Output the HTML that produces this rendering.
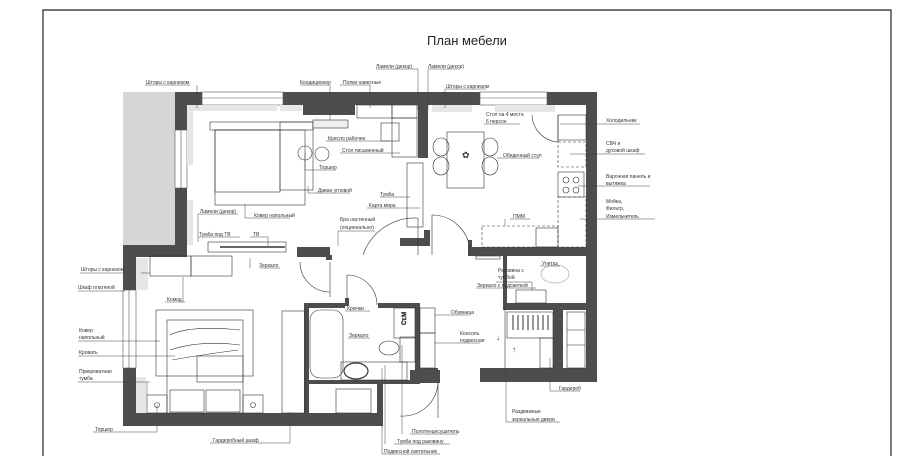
<!DOCTYPE html>
<html><head><meta charset="utf-8"><style>
html,body{margin:0;padding:0;background:#fff;}
svg{display:block;}
text{font-family:"Liberation Sans",sans-serif;font-size:5px;fill:#333;}
</style></head><body>
<svg width="900" height="456" viewBox="0 0 900 456" xmlns="http://www.w3.org/2000/svg">
<rect x="0" y="0" width="900" height="456" fill="#fff"/>
<!-- frame -->
<path d="M43 456 V10 H891 V456" fill="none" stroke="#222" stroke-width="1.2"/>
<text x="467" y="45" text-anchor="middle" style="font-size:13px;fill:#222">План мебели</text>

<!-- balcony -->
<rect x="123" y="92" width="52" height="153" fill="#d6d6d6"/>

<g fill="#4d4d4d">
<!-- top wall -->
<rect x="175" y="92" width="27" height="13"/>
<rect x="283" y="92" width="197" height="13"/>
<rect x="303" y="105" width="52" height="10"/>
<rect x="547" y="92" width="50" height="13"/>
<!-- living left wall -->
<rect x="175" y="92" width="12" height="38"/>
<rect x="175" y="188" width="12" height="64"/>
<!-- partition living/kitchen -->
<rect x="418" y="92" width="10" height="66"/>
<!-- right wall -->
<rect x="586" y="92" width="11" height="290"/>
<!-- living bottom -->
<rect x="123" y="245" width="64" height="12"/>
<rect x="297" y="247" width="33" height="10"/>
<rect x="326" y="255" width="6" height="5"/>
<rect x="400" y="238" width="30" height="8"/>
<rect x="424" y="230" width="6" height="16"/>
<rect x="468" y="247" width="129" height="9"/>
<rect x="468" y="240" width="4" height="16"/>
<!-- bedroom left wall -->
<rect x="123" y="252" width="13" height="38"/>
<rect x="123" y="368" width="13" height="58"/>
<!-- bedroom bottom -->
<rect x="123" y="413" width="257" height="13"/>
<!-- bathroom walls -->
<rect x="304" y="303" width="41" height="5"/>
<rect x="378" y="303" width="42" height="5"/>
<rect x="304" y="303" width="5" height="123"/>
<rect x="415" y="303" width="5" height="80"/>
<rect x="304" y="380" width="116" height="4"/>
<rect x="345" y="298" width="4" height="8"/>
<rect x="377" y="383" width="6" height="43"/>
<rect x="410" y="370" width="30" height="13"/>
<!-- hall -->
<rect x="420" y="368" width="18" height="14"/>
<rect x="480" y="368" width="117" height="14"/>
<rect x="503" y="256" width="4" height="52"/>
<rect x="503" y="303" width="87" height="7"/>
<rect x="553" y="310" width="10" height="58"/>
</g>

<!-- windows -->
<g fill="#fff" stroke="#555" stroke-width="0.6">
<rect x="202" y="92" width="81" height="13"/>
<rect x="480" y="92" width="67" height="13"/>
<rect x="175" y="130" width="12" height="58"/>
<rect x="123" y="290" width="13" height="78"/>
</g>
<g stroke="#555" stroke-width="0.6">
<line x1="202" y1="98" x2="283" y2="98"/><line x1="480" y1="98" x2="547" y2="98"/>
<line x1="181" y1="130" x2="181" y2="188"/><line x1="129" y1="290" x2="129" y2="368"/>
</g>
<!-- curtains -->
<g fill="#e6e6e6">
<rect x="187" y="105" width="90" height="6"/><rect x="280" y="105" width="22" height="6"/>
<rect x="187" y="110" width="6" height="55"/><rect x="187" y="200" width="6" height="45"/>
<rect x="432" y="105" width="40" height="7"/><rect x="495" y="105" width="60" height="7"/>
<rect x="136" y="258" width="12" height="32"/><rect x="136" y="377" width="10" height="36"/>
</g>

<g fill="none" stroke="#333" stroke-width="0.6">
<!-- living furniture -->
<rect x="210" y="122" width="103" height="8"/>
<rect x="215" y="130" width="65" height="62"/>
<rect x="280" y="122" width="33" height="68"/>
<rect x="215" y="130" width="90" height="75"/>
<circle cx="305" cy="153" r="7"/><circle cx="322" cy="154" r="7"/>
<rect x="313" y="120" width="35" height="8" fill="#eee"/>
<rect x="357" y="105" width="35" height="13"/><rect x="392" y="105" width="25" height="13"/>
<rect x="392" y="118" width="25" height="39"/>
<rect x="381" y="123" width="18" height="18"/>
<rect x="407" y="163" width="16" height="64"/>
<rect x="208" y="242" width="78" height="10"/>
<line x1="220" y1="247" x2="285" y2="247" stroke-width="1.5"/>
<path d="M418 218 A55 55 0 0 0 363 255 M418 218 V255"/>
<path d="M432 215 A38 38 0 0 1 470 253 M432 215 V255"/>
<!-- kitchen -->
<rect x="447" y="132" width="37" height="56"/>
<ellipse cx="441" cy="147" rx="8" ry="9"/><ellipse cx="441" cy="166" rx="8" ry="9"/>
<ellipse cx="490" cy="147" rx="8" ry="9"/><ellipse cx="490" cy="166" rx="8" ry="9"/>
<path d="M532 115 A28 28 0 0 0 558 142 V115"/>
<rect x="558" y="115" width="28" height="25"/>
<rect x="558" y="142" width="28" height="25" stroke-dasharray="3,2"/>
<rect x="558" y="172" width="26" height="25"/>
<circle cx="566" cy="180" r="3"/><circle cx="576" cy="180" r="3"/>
<circle cx="566" cy="190" r="3"/><circle cx="576" cy="190" r="3"/>
<rect x="558" y="197" width="28" height="50" stroke-dasharray="3,2"/>
<rect x="482" y="226" width="76" height="21" stroke-dasharray="3,2"/>
<rect x="536" y="228" width="22" height="19"/>
<!-- bedroom -->
<rect x="150" y="256" width="41" height="20"/><rect x="191" y="256" width="41" height="20"/>
<rect x="156" y="310" width="97" height="66"/>
<rect x="167" y="320" width="76" height="93"/>
<rect x="170" y="390" width="34" height="22"/><rect x="206" y="390" width="34" height="22"/>
<path d="M170 335 Q190 325 240 330 M170 350 Q200 340 240 345 M172 360 Q200 355 238 350"/>
<rect x="197" y="356" width="46" height="26"/>
<rect x="147" y="395" width="20" height="18"/><rect x="243" y="395" width="20" height="18"/>
<circle cx="157" cy="405" r="2.5"/><circle cx="253" cy="405" r="2.5"/>
<rect x="282" y="311" width="23" height="102"/>
<path d="M300 262 A30 30 0 0 0 330 292 M330 262 V297"/>
<path d="M347 275 A30 30 0 0 1 377 305 M347 275 V300"/>
<!-- bathroom -->
<rect x="310" y="310" width="33" height="68" rx="10"/>
<rect x="341" y="362" width="66" height="18"/>
<ellipse cx="356" cy="371" rx="12" ry="8" stroke-width="1.2"/>
<rect x="394" y="308" width="21" height="30"/>
<text x="406" y="325" transform="rotate(-90 406 325)" style="font-size:6px">Ст.М</text>
<ellipse cx="389" cy="348" rx="10" ry="7"/>
<rect x="400" y="337" width="15" height="25"/>
<rect x="336" y="389" width="35" height="24"/>
<rect x="420" y="308" width="15" height="25"/><rect x="420" y="333" width="15" height="35"/>
<path d="M438 382 A35 35 0 0 1 400 416 M438 382 V418" />
<!-- hall -->
<ellipse cx="555" cy="274" rx="14" ry="9" stroke="#8a9bb5"/>
<rect x="516" y="290" width="30" height="13"/>
<rect x="476" y="256" width="24" height="3"/>
<rect x="507" y="312" width="46" height="26"/>
<path d="M513 315 V330 M518 315 V330 M523 315 V330 M528 315 V330 M533 315 V330 M538 315 V330 M543 315 V330 M548 315 V330" stroke-width="1"/>
<rect x="540" y="338" width="13" height="30"/>
<rect x="567" y="312" width="18" height="56"/>
<line x1="567" y1="330" x2="585" y2="330"/><line x1="567" y1="345" x2="585" y2="345"/>
<line x1="505" y1="308" x2="505" y2="370"/>
</g>
<text x="462" y="158" style="font-size:9px">✿</text>

<!-- leader lines -->
<g fill="none" stroke="#444" stroke-width="0.5">
<path d="M145 85 H190 M197 85 V108"/>
<path d="M300 85 H330 V120"/><path d="M340 85 H370 V108"/>
<path d="M376 69 H418 V110"/><path d="M428 69 H460 M428 69 V110"/>
<path d="M445 89 H486 M445 89 V108"/>
<path d="M326 141 H390"/><path d="M340 153 H400"/>
<path d="M305 153 V170 H336"/><path d="M308 186 V193 H350"/>
<path d="M380 197 H410"/><path d="M367 208 H420"/>
<path d="M198 214 H238 M198 214 V242"/><path d="M245 218 H290 M245 218 V204"/>
<path d="M338 231 H375 M338 231 V246"/>
<path d="M198 237 H240"/><path d="M250 237 H268 M268 237 V246"/>
<path d="M484 124 H520"/><path d="M497 158 H540"/>
<path d="M605 124 H640 M560 124 H605"/><path d="M605 154 H645 M570 154 H605"/>
<path d="M605 186 H650 M578 186 H605"/><path d="M605 219 H655 M580 219 H605"/>
<path d="M510 219 H530 M505 219 V226"/>
<path d="M80 273 H135 M141 273 H150"/><path d="M78 291 H125"/>
<path d="M165 302 H185 M183 302 V277"/><path d="M260 268 H280 M250 258 V268"/>
<path d="M78 341 H160"/><path d="M78 356 H175"/><path d="M78 382 H150 M147 382 V395"/>
<path d="M93 432 H157 M157 432 V405"/><path d="M210 443 H290 M290 443 V412"/>
<path d="M345 311 H370"/><path d="M348 338 H370"/>
<path d="M410 434 H458 M402 434 V345"/><path d="M394 444 H450 M385 444 V365"/>
<path d="M382 454 H440 M382 454 V368"/>
<path d="M435 315 H470"/><path d="M435 343 H480"/>
<path d="M540 266 H560"/><path d="M496 282 H532 M532 282 V290"/>
<path d="M476 288 H536"/><path d="M550 391 H580 M550 391 V358"/>
<path d="M506 370 V422 H560"/>
</g>

<!-- labels -->
<g>
<text x="146" y="84">Шторы с карнизом</text>
<text x="300" y="84">Кондиционер</text>
<text x="343" y="84">Полки навесные</text>
<text x="376" y="68">Ламели (декор)</text>
<text x="428" y="68">Ламели (декор)</text>
<text x="446" y="88">Шторы с карнизом</text>
<text x="328" y="140">Кресло рабочее</text>
<text x="342" y="152">Стол письменный</text>
<text x="319" y="169">Торшер</text>
<text x="318" y="192">Диван угловой</text>
<text x="380" y="196">Тумба</text>
<text x="369" y="207">Карта мира</text>
<text x="200" y="213">Ламели (декор)</text>
<text x="254" y="217">Ковер напольный</text>
<text x="340" y="221">Бра настенный</text>
<text x="340" y="229">(опционально)</text>
<text x="199" y="236">Тумба под ТВ</text>
<text x="253" y="236">ТВ</text>
<text x="486" y="116">Стол на 4 места</text>
<text x="486" y="123">6 персон</text>
<text x="503" y="157">Обеденный стул</text>
<text x="606" y="122">Холодильник</text>
<text x="606" y="145">СВЧ и</text>
<text x="606" y="152">духовой шкаф</text>
<text x="606" y="178">Варочная панель и</text>
<text x="606" y="185">вытяжка</text>
<text x="606" y="203">Мойка,</text>
<text x="606" y="210">Фильтр,</text>
<text x="606" y="218">Измельчитель</text>
<text x="513" y="218">ПММ</text>
<text x="542" y="265">Унитаз</text>
<text x="498" y="272">Раковина с</text>
<text x="498" y="279">тумбой</text>
<text x="477" y="287">Зеркало с подсветкой</text>
<text x="451" y="314">Обувница</text>
<text x="460" y="335">Консоль</text>
<text x="460" y="342">подвесная</text>
<text x="559" y="390">Гардероб</text>
<text x="512" y="413">Раздвижные</text>
<text x="512" y="421">зеркальные двери</text>
<text x="81" y="271">Шторы с карнизом</text>
<text x="78" y="289">Шкаф платяной</text>
<text x="167" y="301">Комод</text>
<text x="259" y="267">Зеркало</text>
<text x="79" y="332">Ковер</text>
<text x="79" y="339">напольный</text>
<text x="79" y="354">Кровать</text>
<text x="79" y="373">Прикроватная</text>
<text x="79" y="380">тумба</text>
<text x="95" y="431">Торшер</text>
<text x="213" y="442">Гардеробный шкаф</text>
<text x="347" y="310">Крючки</text>
<text x="349" y="337">Зеркало</text>
<text x="412" y="433">Полотенцесушитель</text>
<text x="397" y="443">Тумба под раковину</text>
<text x="384" y="453">Подвесной светильник</text>
</g>
<text x="512" y="352" style="font-size:8px">↑</text>
<text x="496" y="340" style="font-size:8px">↓</text>
</svg>
</body></html>
